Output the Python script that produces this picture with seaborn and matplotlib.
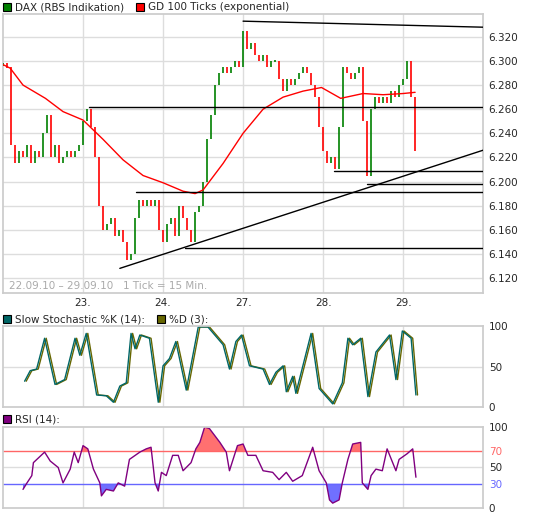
import matplotlib
matplotlib.use('Agg')
import matplotlib.pyplot as plt
import numpy as np
import pandas as pd
import seaborn as sns

sns.set_theme(style='white')
plt.rcParams['font.family'] = ['DejaVu Sans']

# price closes, one every 0.05 day (day 0 = 22.09.)
closes = [6.297, 6.295, 6.23, 6.215, 6.225, 6.22, 6.23, 6.215, 6.225, 6.22,
          6.24, 6.255, 6.22, 6.23, 6.215, 6.22, 6.225, 6.22, 6.225, 6.23,
          6.25, 6.26, 6.245, 6.22, 6.18, 6.16, 6.165, 6.17, 6.155, 6.16,
          6.15, 6.135, 6.14, 6.17, 6.185, 6.18, 6.185, 6.18, 6.185, 6.16,
          6.15, 6.165, 6.17, 6.155, 6.18, 6.17, 6.16, 6.15, 6.175, 6.18,
          6.20, 6.235, 6.255, 6.28, 6.29, 6.295, 6.29, 6.295, 6.30, 6.295,
          6.325, 6.31, 6.315, 6.305, 6.30, 6.305, 6.295, 6.30, 6.30, 6.285,
          6.275, 6.285, 6.28, 6.285, 6.29, 6.295, 6.29, 6.28, 6.27, 6.245,
          6.225, 6.215, 6.22, 6.21, 6.245, 6.295, 6.29, 6.285, 6.29, 6.295,
          6.25, 6.205, 6.26, 6.27, 6.265, 6.27, 6.265, 6.275, 6.27, 6.28,
          6.285, 6.30, 6.27, 6.225]
close_step = 0.05

ema_days = [0.0, 0.09, 0.25, 0.53, 0.75, 1.0, 1.25, 1.5, 1.75, 2.0, 2.25, 2.4, 2.5,
            2.75, 3.0, 3.25, 3.5, 3.75, 3.98, 4.22, 4.5, 4.75, 5.0, 5.15]
ema_vals = [6.297, 6.294, 6.28, 6.269, 6.258, 6.251, 6.235, 6.218, 6.205, 6.199, 6.192,
            6.19, 6.193, 6.215, 6.24, 6.26, 6.27, 6.275, 6.278, 6.269, 6.273, 6.272,
            6.273, 6.274]

# support / resistance lines: (start day, start price, end day, end price)
lines = [(1.08, 6.262, 6.0, 6.262), (1.66, 6.191, 6.0, 6.191), (2.27, 6.145, 6.0, 6.145),
         (4.14, 6.209, 6.0, 6.209), (4.55, 6.198, 6.0, 6.198),
         (3.0, 6.333, 6.0, 6.328), (1.46, 6.128, 6.0, 6.226)]

stoch_days = [0.27, 0.34, 0.42, 0.52, 0.65, 0.77, 0.90, 0.96, 1.04, 1.17, 1.29, 1.38, 1.46,
              1.54, 1.60, 1.65, 1.71, 1.83, 1.94, 2.00, 2.08, 2.16, 2.29, 2.44, 2.56, 2.75,
              2.83, 2.91, 2.98, 3.08, 3.25, 3.33, 3.41, 3.50, 3.54, 3.62, 3.66, 3.85, 3.95,
              4.12, 4.24, 4.31, 4.37, 4.47, 4.56, 4.66, 4.83, 4.91, 4.99, 5.10, 5.16]
stoch_k = [32, 45, 47, 85, 28, 34, 85, 64, 91, 15, 14, 6, 26, 30, 91, 72, 89, 85, 6, 51,
           60, 81, 21, 99, 99, 77, 47, 81, 89, 51, 47, 28, 43, 51, 19, 38, 17, 91, 23, 4,
           30, 85, 77, 85, 13, 68, 89, 34, 94, 85, 15]

rsi_days = [0.25, 0.30, 0.36, 0.38, 0.52, 0.59, 0.69, 0.75, 0.84, 0.89, 0.94, 1.00, 1.06,
            1.13, 1.21, 1.23, 1.29, 1.38, 1.44, 1.52, 1.58, 1.71, 1.79, 1.85, 1.90, 1.94,
            1.98, 2.04, 2.12, 2.19, 2.25, 2.35, 2.41, 2.46, 2.52, 2.58, 2.71, 2.79, 2.83,
            2.93, 3.00, 3.06, 3.16, 3.25, 3.37, 3.45, 3.54, 3.62, 3.74, 3.87, 3.95, 4.04,
            4.08, 4.12, 4.20, 4.24, 4.31, 4.37, 4.47, 4.49, 4.56, 4.60, 4.66, 4.74, 4.80,
            4.91, 4.95, 5.05, 5.12, 5.16]
rsi_vals = [23, 31, 40, 56, 69, 58, 50, 31, 48, 69, 56, 77, 73, 48, 31, 15, 23, 21, 31, 27,
            60, 69, 73, 75, 31, 21, 44, 40, 65, 65, 46, 56, 73, 81, 100, 98, 81, 69, 46, 77,
            79, 65, 65, 46, 44, 35, 44, 33, 40, 75, 46, 31, 10, 6, 10, 31, 60, 79, 81, 31,
            23, 40, 48, 46, 73, 46, 60, 67, 73, 38]

day_ticks = [1, 2, 3, 4, 5]
day_labels = ['23.', '24.', '27.', '28.', '29.']
price_ticks = [6.12, 6.14, 6.16, 6.18, 6.20, 6.22, 6.24, 6.26, 6.28, 6.30, 6.32]

GRID = '#dddddd'
FS = 7.5

fig = plt.figure(figsize=(5.45, 5.16), dpi=100)
ax = fig.add_axes([0.0055, 0.432, 0.881, 0.541])
ax_s = fig.add_axes([0.0055, 0.211, 0.881, 0.157])
ax_r = fig.add_axes([0.0055, 0.0155, 0.881, 0.157])

for a in (ax, ax_s, ax_r):
    a.set_xlim(0, 6)
    for d in day_ticks:
        a.axvline(d, color=GRID, lw=1, zorder=0)
    for s in a.spines.values():
        s.set_color('#cccccc')
    a.yaxis.tick_right()
    a.tick_params(axis='y', length=0, labelsize=FS, pad=4)
    a.tick_params(axis='x', length=0, labelsize=FS)

# main price panel
ax.set_ylim(6.1075, 6.339)
for p in price_ticks:
    ax.axhline(p, color=GRID, lw=1, zorder=0)
ax.set_yticks(price_ticks)
ax.set_yticklabels([f'{p:.3f}' for p in price_ticks])
x = np.arange(len(closes)) * close_step
opens = [closes[0]] + closes[:-1]
for xi, o, c in zip(x, opens, closes):
    col = 'green' if c >= o else 'red'
    lo, hi = min(o, c), max(o, c)
    if hi - lo < 0.002:
        hi += 0.001
        lo -= 0.001
    ax.vlines(xi, lo, hi, color=col, lw=1.2, zorder=3)
df_ema = pd.DataFrame({'day': ema_days, 'ema': ema_vals})
sns.lineplot(data=df_ema, x='day', y='ema', color='red', lw=1, ax=ax, zorder=4)
for x0, y0, x1, y1 in lines:
    ax.plot([x0, x1], [y0, y1], color='black', lw=1, zorder=5)
ax.set_xticks(day_ticks)
ax.set_xticklabels(day_labels)
ax.set_xlabel('')
ax.set_ylabel('')
ax.text(0.08, 6.1105, '22.09.10 \u2013 29.09.10   1 Tick = 15 Min.', color='#aaaaaa',
        fontsize=FS)

# stochastic panel
ax_s.set_ylim(0, 100)
ax_s.axhline(50, color=GRID, lw=1, zorder=0)
df_s = pd.DataFrame({'day': stoch_days, 'k': stoch_k})
sns.lineplot(x=df_s['day'] + 0.02, y=df_s['k'], color='#666600', lw=1, ax=ax_s)
sns.lineplot(data=df_s, x='day', y='k', color='#006666', lw=1, ax=ax_s)
ax_s.set_yticks([0, 50, 100])
ax_s.set_xticks([])
ax_s.set_xlabel('')
ax_s.set_ylabel('')

# RSI panel
ax_r.set_ylim(0, 100)
ax_r.axhline(50, color=GRID, lw=1, zorder=0)
rd = np.array(rsi_days)
rv = np.array(rsi_vals, dtype=float)
ax_r.fill_between(rd, rv, 70, where=rv > 70, interpolate=True, color='#ff7070', lw=0)
ax_r.fill_between(rd, rv, 30, where=rv < 30, interpolate=True, color='#7070ff', lw=0)
ax_r.axhline(70, color='#ff6666', lw=1)
ax_r.axhline(30, color='#6666ff', lw=1)
sns.lineplot(x=rd, y=rv, color='purple', lw=1, ax=ax_r)
ax_r.set_yticks([0, 30, 50, 70, 100])
ax_r.set_xticks([])
for t in ax_r.get_yticklabels():
    if t.get_text() == '70':
        t.set_color('#ff6666')
    elif t.get_text() == '30':
        t.set_color('#6666ff')


def legend_item(xpx, ypx, color, label):
    fig.patches.append(plt.Rectangle((xpx / 545, 1 - (ypx + 4) / 516), 8 / 545, 8 / 516,
                                     transform=fig.transFigure, facecolor=color,
                                     edgecolor='black', lw=0.8))
    fig.text((xpx + 12) / 545, 1 - ypx / 516, label, fontsize=FS, va='center')


legend_item(3, 7, 'green', 'DAX (RBS Indikation)')
legend_item(136, 7, 'red', 'GD 100 Ticks (exponential)')
legend_item(3, 319, '#006666', 'Slow Stochastic %K (14):')
legend_item(157, 319, '#666600', '%D (3):')
legend_item(3, 419, 'purple', 'RSI (14):')

fig.savefig('out.png', dpi=100)
